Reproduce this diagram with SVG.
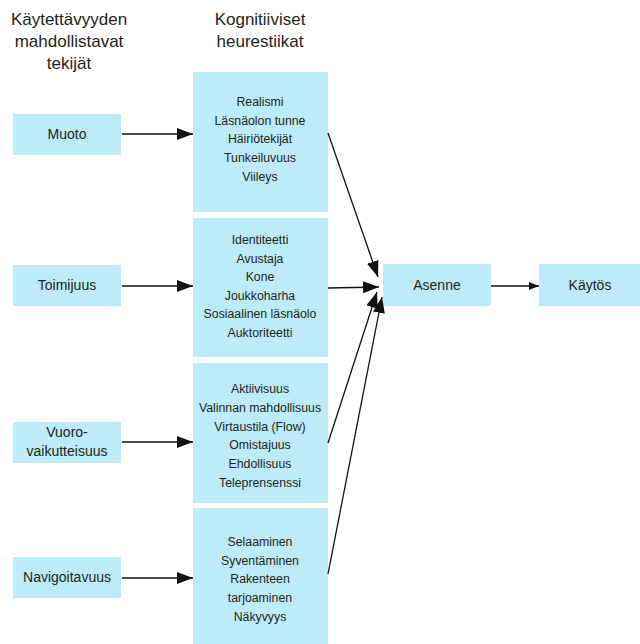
<svg xmlns="http://www.w3.org/2000/svg" width="640" height="644" viewBox="0 0 640 644">
<style>
  .box { fill: #bdebf9; }
  .t { font-family: "Liberation Sans", Arial, sans-serif; fill: #231f20; text-anchor: middle; }
  .hd { font-size: 17px; }
  .sm { font-size: 12.3px; }
  .md { font-size: 14px; }
  .ln { stroke: #111; stroke-width: 1.3; fill: none; }
</style>
<defs>
  <marker id="big" markerUnits="userSpaceOnUse" markerWidth="16" markerHeight="12" refX="16" refY="6" orient="auto">
    <path d="M0,0 L16,6 L0,12 z" fill="#111"/>
  </marker>
  <marker id="small" markerUnits="userSpaceOnUse" markerWidth="10" markerHeight="8" refX="10" refY="4" orient="auto">
    <path d="M0,0 L10,4 L0,8 z" fill="#111"/>
  </marker>
</defs>
<rect width="640" height="644" fill="#ffffff"/>

<g id="header-left">
  <text class="t hd" x="69" y="25">Käytettävyyden</text>
  <text class="t hd" x="69" y="47">mahdollistavat</text>
  <text class="t hd" x="69" y="69">tekijät</text>
</g>
<g id="header-mid">
  <text class="t hd" x="260" y="25">Kognitiiviset</text>
  <text class="t hd" x="260" y="47">heurestiikat</text>
</g>

<g id="muoto">
  <rect class="box" x="13" y="114" width="108" height="41"/>
  <text class="t md" x="67" y="139">Muoto</text>
</g>
<g id="toimijuus">
  <rect class="box" x="13" y="265" width="108" height="41"/>
  <text class="t md" x="67" y="290">Toimijuus</text>
</g>
<g id="vuorovaikutteisuus">
  <rect class="box" x="13" y="422" width="108" height="41"/>
  <text class="t md" x="67" y="437">Vuoro-</text>
  <text class="t md" x="67" y="456">vaikutteisuus</text>
</g>
<g id="navigoitavuus">
  <rect class="box" x="13" y="557" width="108" height="41"/>
  <text class="t md" x="67" y="582">Navigoitavuus</text>
</g>

<g id="heur1">
  <rect class="box" x="193" y="72" width="135" height="140"/>
  <text class="t sm" x="260" y="106">Realismi</text>
  <text class="t sm" x="260" y="125">Läsnäolon tunne</text>
  <text class="t sm" x="260" y="143">Häiriötekijät</text>
  <text class="t sm" x="260" y="162">Tunkeiluvuus</text>
  <text class="t sm" x="260" y="181">Viileys</text>
</g>
<g id="heur2">
  <rect class="box" x="193" y="218" width="135" height="139"/>
  <text class="t sm" x="260" y="244">Identiteetti</text>
  <text class="t sm" x="260" y="263">Avustaja</text>
  <text class="t sm" x="260" y="281">Kone</text>
  <text class="t sm" x="260" y="300">Joukkoharha</text>
  <text class="t sm" x="260" y="318">Sosiaalinen läsnäolo</text>
  <text class="t sm" x="260" y="337">Auktoriteetti</text>
</g>
<g id="heur3">
  <rect class="box" x="193" y="363" width="135" height="140"/>
  <text class="t sm" x="260" y="393">Aktiivisuus</text>
  <text class="t sm" x="260" y="412">Valinnan mahdollisuus</text>
  <text class="t sm" x="260" y="431">Virtaustila (Flow)</text>
  <text class="t sm" x="260" y="449">Omistajuus</text>
  <text class="t sm" x="260" y="468">Ehdollisuus</text>
  <text class="t sm" x="260" y="487">Teleprensenssi</text>
</g>
<g id="heur4">
  <rect class="box" x="193" y="508" width="135" height="136"/>
  <text class="t sm" x="260" y="546">Selaaminen</text>
  <text class="t sm" x="260" y="565">Syventäminen</text>
  <text class="t sm" x="260" y="583">Rakenteen</text>
  <text class="t sm" x="260" y="602">tarjoaminen</text>
  <text class="t sm" x="260" y="621">Näkyvyys</text>
</g>

<g id="asenne">
  <rect class="box" x="383" y="264" width="108" height="42"/>
  <text class="t md" x="437" y="290">Asenne</text>
</g>
<g id="kaytos">
  <rect class="box" x="539" y="264" width="101" height="42"/>
  <text class="t md" x="590" y="290">Käytös</text>
</g>

<g id="connectors">
  <line class="ln" x1="122" y1="134" x2="193" y2="134" marker-end="url(#big)"/>
  <line class="ln" x1="122" y1="286" x2="193" y2="286" marker-end="url(#big)"/>
  <line class="ln" x1="122" y1="442" x2="193" y2="442" marker-end="url(#big)"/>
  <line class="ln" x1="122" y1="578" x2="193" y2="578" marker-end="url(#big)"/>
  <line class="ln" x1="328" y1="133" x2="378" y2="277" marker-end="url(#big)"/>
  <line class="ln" x1="328" y1="288" x2="379" y2="287" marker-end="url(#big)"/>
  <line class="ln" x1="328" y1="443" x2="377" y2="292" marker-end="url(#big)"/>
  <line class="ln" x1="328" y1="574" x2="382" y2="297" marker-end="url(#big)"/>
  <line class="ln" x1="491" y1="286" x2="539" y2="286" marker-end="url(#small)"/>
</g>
</svg>
